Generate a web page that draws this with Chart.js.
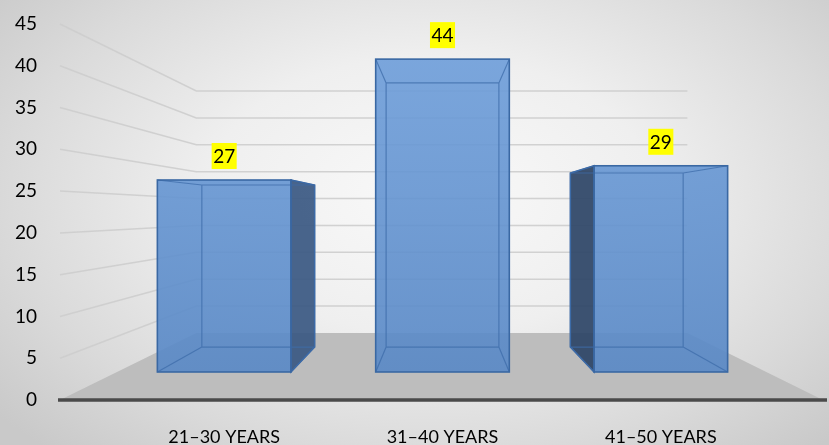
<!DOCTYPE html>
<html><head><meta charset="utf-8">
<script src="https://cdn.jsdelivr.net/npm/chart.js@4"></script>
<style>html,body{margin:0;padding:0;background:#fff;overflow:hidden}</style>
</head><body>
<canvas id="c" width="829" height="445" style="display:block;width:829px;height:445px"></canvas>
<script>
// ---- data ----
const categories = ['21–30 YEARS', '31–40 YEARS', '41–50 YEARS'];
const values = [27, 44, 29];
const yMin = 0, yMax = 45, yStep = 5;

// ---- perspective factors (relative to vanishing point at plot centre) ----
const K_FRONT = 0.851;   // bar front plane
const K_BACK = 0.844;    // bar back face relative to its front face
const K_WALL = 0.6436;   // back wall / floor back edge
const yMid = (yMin + yMax) / 2, yRange = yMax - yMin;

const FONT = 'Lato, "Open Sans", sans-serif';

function vp(ca) { return { x: (ca.left + ca.right) / 2, y: (ca.top + ca.bottom) / 2 }; }

const scene = {
  id: 'scene',
  beforeDraw(chart) {
    const { ctx, width, height } = chart;
    ctx.save();
    ctx.fillStyle = '#d0d0d0';
    ctx.fillRect(0, 0, width, height);
    ctx.translate(430, 195);
    ctx.scale(1, 0.62);
    const g = ctx.createRadialGradient(0, 0, 0, 0, 0, 560);
    g.addColorStop(0, '#f9f9f9');
    g.addColorStop(0.4, '#efefef');
    g.addColorStop(0.75, '#dadada');
    g.addColorStop(1, '#c9c9c9');
    ctx.fillStyle = g;
    ctx.fillRect(-700, -700, 1400, 1400);
    ctx.restore();
  },
  beforeDatasetsDraw(chart) {
    const { ctx, chartArea: ca } = chart;
    const ys = chart.scales.y;
    const v = vp(ca);
    const fl = ca.left - 55, fr = ca.right + 53;
    const bk = (px, py) => [v.x + K_WALL * (px - v.x), v.y + K_WALL * (py - v.y)];
    const base = ys.getPixelForValue(yMin);
    // floor
    const [blx, bly] = bk(fl, base), [brx] = bk(fr, base);
    ctx.save();
    ctx.fillStyle = '#bdbdbd';
    ctx.beginPath();
    ctx.moveTo(fl, base); ctx.lineTo(blx, bly); ctx.lineTo(brx, bly); ctx.lineTo(fr, base);
    ctx.closePath(); ctx.fill();
    // grid lines on side and back wall
    ctx.strokeStyle = 'rgba(205,205,205,0.9)';
    ctx.lineWidth = 1.5;
    for (let t = yMin + yStep; t <= yMax; t += yStep) {
      const py = ys.getPixelForValue(t);
      const [bx, by] = bk(fl, py);
      const [rx] = bk(fr, py);
      ctx.beginPath();
      ctx.moveTo(fl, py); ctx.lineTo(bx, by); ctx.lineTo(rx, by);
      ctx.stroke();
    }
    // axis line
    ctx.strokeStyle = '#4a4a4a';
    ctx.lineWidth = 3.5;
    ctx.beginPath();
    ctx.moveTo(fl - 2, base); ctx.lineTo(fr + 4, base);
    ctx.stroke();
    ctx.restore();
  },
  afterDatasetsDraw(chart) {
    const { ctx, chartArea: ca } = chart;
    const meta = chart.getDatasetMeta(0);
    ctx.save();
    meta.data.forEach((el, i) => {
      const p = el.getProps(['x', 'y', 'base', 'width'], true);
      const c = vp(ca);
      const fL = p.x - p.width / 2, fR = p.x + p.width / 2, fT = p.y, fB = p.base;
      const B = (px, py) => [c.x + K_BACK * (px - c.x), c.y + K_BACK * (py - c.y)];
      const [bL, bT] = B(fL, fT), [bR, bB] = B(fR, fB);
      // visible side faces
      if (bR > fR) {
        ctx.fillStyle = 'rgba(58,88,130,0.92)';
        ctx.beginPath();
        ctx.moveTo(fR, fT); ctx.lineTo(bR, bT); ctx.lineTo(bR, bB); ctx.lineTo(fR, fB);
        ctx.closePath(); ctx.fill();
        ctx.strokeStyle = '#3a66a0'; ctx.lineWidth = 1.5; ctx.stroke();
      }
      if (bL < fL) {
        ctx.fillStyle = 'rgba(45,68,102,0.92)';
        ctx.beginPath();
        ctx.moveTo(fL, fT); ctx.lineTo(bL, bT); ctx.lineTo(bL, bB); ctx.lineTo(fL, fB);
        ctx.closePath(); ctx.fill();
        ctx.strokeStyle = '#3a66a0'; ctx.lineWidth = 1.5; ctx.stroke();
      }
      // inner (see-through) edges
      ctx.strokeStyle = 'rgba(62,108,170,0.75)';
      ctx.lineWidth = 1.2;
      ctx.beginPath();
      ctx.rect(bL, bT, bR - bL, bB - bT);
      ctx.moveTo(fL, fT); ctx.lineTo(bL, bT);
      ctx.moveTo(fR, fT); ctx.lineTo(bR, bT);
      ctx.moveTo(fL, fB); ctx.lineTo(bL, bB);
      ctx.moveTo(fR, fB); ctx.lineTo(bR, bB);
      ctx.stroke();
      // front outline on top
      ctx.strokeStyle = '#3a68a3';
      ctx.lineWidth = 1.6;
      ctx.strokeRect(fL, fT, fR - fL, fB - fT);
      // data label
      const txt = String(values[i]);
      ctx.font = '19px ' + FONT;
      const w = ctx.measureText(txt).width + 3;
      const h = 26;
      const yb = fT - 11;
      ctx.fillStyle = '#ffff00';
      ctx.fillRect(p.x - w / 2, yb - h, w, h);
      ctx.fillStyle = '#000';
      ctx.textAlign = 'center';
      ctx.textBaseline = 'middle';
      ctx.fillText(txt, p.x, yb - h / 2 + 1);
    });
    ctx.restore();
  }
};

const ctx = document.getElementById('c').getContext('2d');
new Chart(ctx, {
  type: 'bar',
  data: {
    labels: categories,
    datasets: [{
      data: values,
      yAxisID: 'y2',
      backgroundColor: (c) => {
        const ca = c.chart.chartArea;
        if (!ca) return 'rgba(84,135,199,0.88)';
        const g = c.chart.ctx.createLinearGradient(0, ca.top, 0, ca.bottom);
        g.addColorStop(0, 'rgba(112,160,220,0.9)');
        g.addColorStop(1, 'rgba(86,134,196,0.9)');
        return g;
      },
      borderWidth: 0,
      barPercentage: 0.72,
      categoryPercentage: 0.85
    }]
  },
  options: {
    responsive: false,
    animation: false,
    layout: { padding: { left: 0, right: 59, top: 24, bottom: 0 } },
    plugins: { legend: { display: false }, tooltip: { enabled: false } },
    scales: {
      x: {
        grid: { display: false, drawTicks: false },
        border: { display: false },
        ticks: { color: '#000', font: { family: FONT, size: 18 }, padding: 26, maxRotation: 0 },
        afterFit(s) { s.height = 45; }
      },
      y: {
        min: yMin, max: yMax,
        grid: { display: false, drawTicks: false },
        border: { display: false },
        ticks: { stepSize: yStep, color: '#000', font: { family: FONT, size: 19 }, padding: 78 },
        afterFit(s) { s.width = 115; s.paddingTop = 0; s.paddingBottom = 0; }
      },
      y2: {
        display: false,
        min: yMid - yRange / (2 * K_FRONT),
        max: yMid + yRange / (2 * K_FRONT)
      }
    }
  },
  plugins: [scene]
});
</script>
</body></html>
